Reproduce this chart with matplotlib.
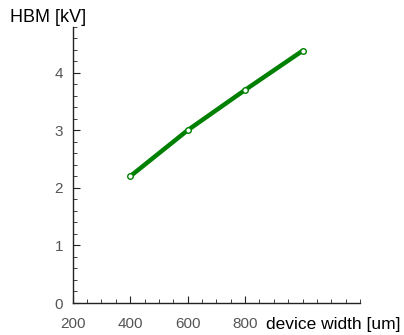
import matplotlib
matplotlib.use("Agg")
import matplotlib.pyplot as plt
from matplotlib.ticker import MultipleLocator

# device width [um] vs HBM level [kV]
width_um = [400, 600, 800, 1000]
hbm_kv = [2.2, 3.0, 3.7, 4.38]

x_ticks = [200, 400, 600, 800]
y_ticks = [0, 1, 2, 3, 4]

plt.rcParams["font.family"] = ["Liberation Sans", "DejaVu Sans"]

fig = plt.figure(figsize=(4.04, 3.35), dpi=100)
ax = fig.add_axes([0.18, 0.0955, 0.711, 0.825])

ax.plot(width_um, hbm_kv, color="#008000", linewidth=3.2,
        marker="o", markersize=4, markerfacecolor="white",
        markeredgecolor="#008000", markeredgewidth=1.0, solid_capstyle="round")

ax.set_xlim(200, 1200)
ax.set_ylim(0, 4.8)
ax.set_xticks(x_ticks)
ax.set_yticks(y_ticks)
ax.xaxis.set_minor_locator(MultipleLocator(50))
ax.yaxis.set_minor_locator(MultipleLocator(0.2))

for side in ("top", "right"):
    ax.spines[side].set_visible(False)
for side in ("left", "bottom"):
    ax.spines[side].set_color("#222222")
    ax.spines[side].set_linewidth(1.0)

ax.tick_params(which="both", direction="in", colors="#222222",
               labelcolor="#555555", labelsize=11)
ax.tick_params(axis="x", which="major", length=5, pad=10)
ax.tick_params(axis="y", which="major", length=5, pad=7)
ax.tick_params(which="minor", length=3)

fig.text(10 / 404, 1 - 17 / 335, "HBM [kV]", fontsize=13,
         ha="left", va="center", color="black")
fig.text(400 / 404, 1 - 325 / 335, "device width [um]", fontsize=12.5,
         ha="right", va="center", color="black")

fig.savefig("out.png", dpi=100)
